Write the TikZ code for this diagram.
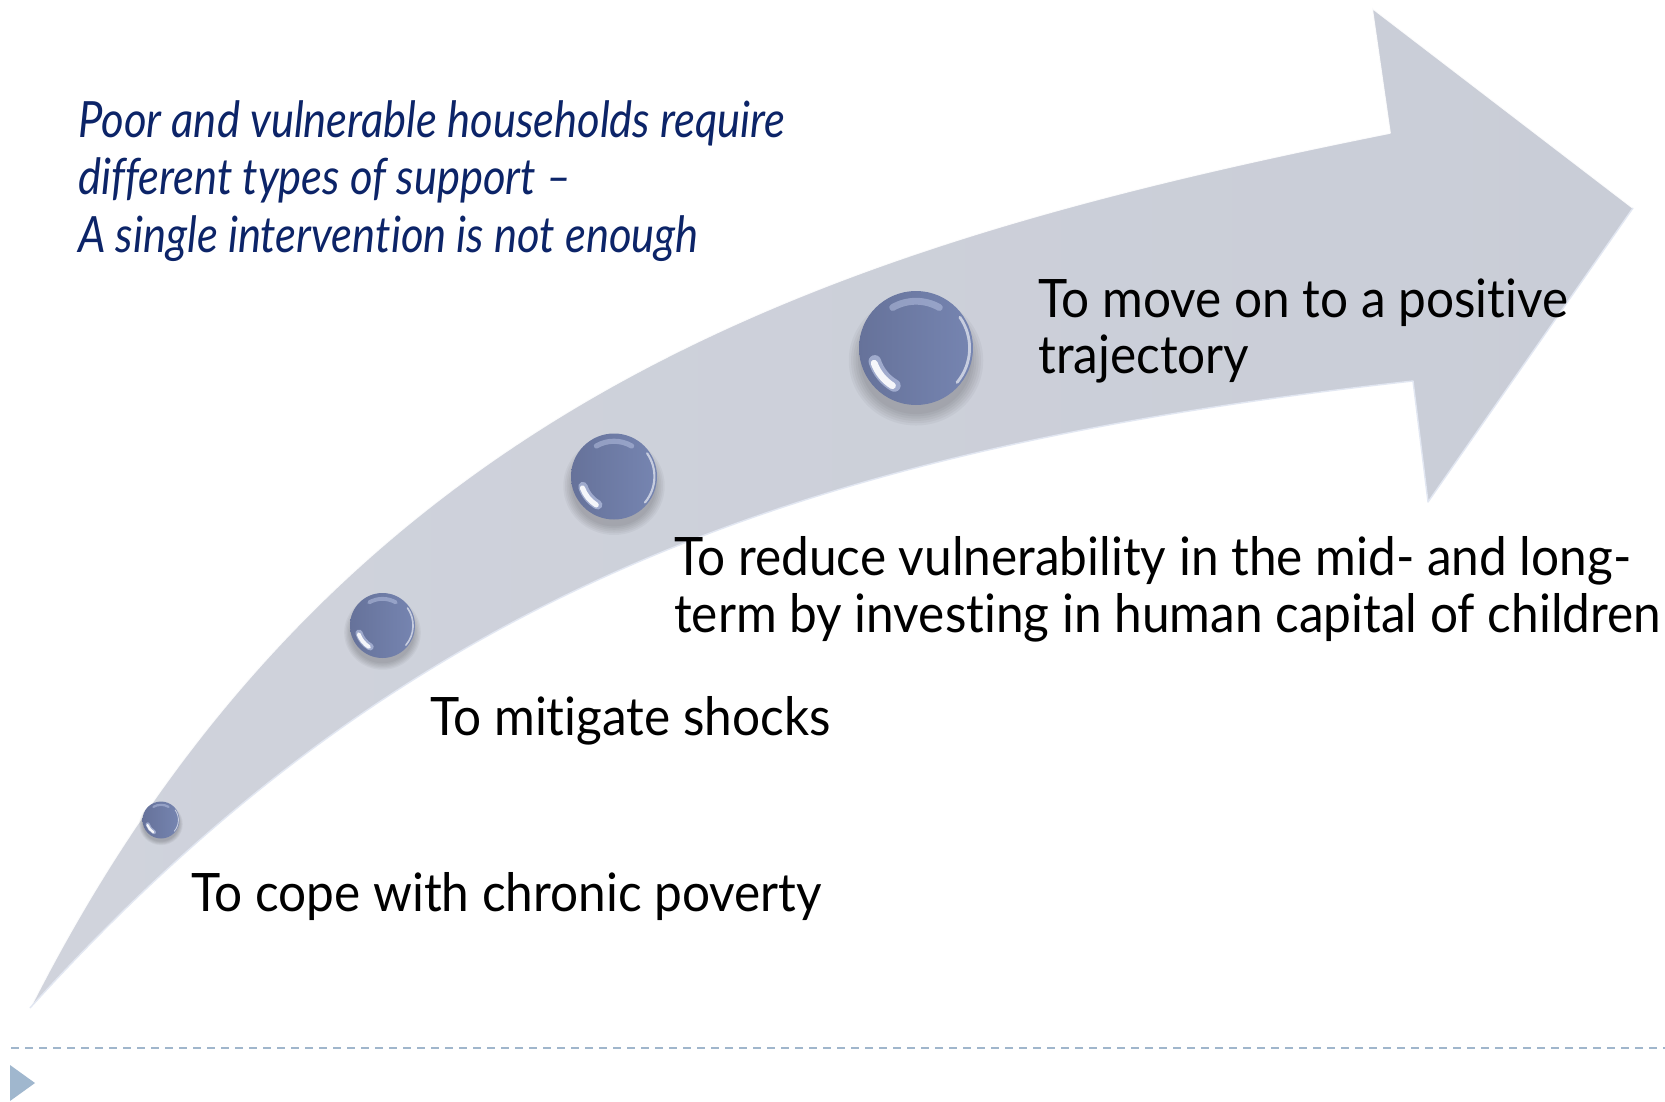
\documentclass[tikz,border=0pt]{standalone}
\usepackage{fontspec}
\setmainfont{Lato}[Ligatures=NoCommon]
\newfontfamily\stagefont{Lato}[Ligatures=NoCommon, FakeStretch=0.935]
\newfontfamily\leadfont{Lato}[Ligatures=NoCommon, FakeStretch=0.87]
\definecolor{leadblue}{RGB}{12,36,104}
\definecolor{arrowA}{RGB}{208,211,220}
\definecolor{arrowB}{RGB}{218,220,228}
\definecolor{arrowC}{RGB}{201,205,215}
\definecolor{ballA}{RGB}{102,114,154}
\definecolor{ballB}{RGB}{118,133,177}
\definecolor{glint}{RGB}{196,206,236}
\definecolor{rulecol}{RGB}{160,182,204}
\definecolor{bulletcol}{RGB}{160,183,206}
\definecolor{rimcol}{RGB}{226,231,242}

% a glossy bead: name, x, y, radius
\newcommand{\glassbead}[4]{%
  \foreach \k in {0,...,5}
    \fill[black, opacity=0.035]
      (#2,{#3+0.22*#4}) ellipse [x radius={#4*(0.98+0.04*\k)}, y radius={#4*(0.94+0.04*\k)}];
  \node[bead, minimum size={2*#4pt}] (#1) at (#2,#3) {};
  % soft glint along the top
  \draw[glint, opacity=0.45, line width={0.12*#4pt}, line cap=round]
    (#2,#3) ++(240:{0.82*#4}) arc[start angle=240, end angle=300, radius={0.82*#4}];
  % bright crescent, lower left
  \draw[glint, opacity=0.6, line width={0.22*#4pt}, line cap=round]
    (#2,#3) ++(120:{0.76*#4}) arc[start angle=120, end angle=162, radius={0.76*#4}];
  \draw[white, opacity=0.9, line width={0.12*#4pt}, line cap=round]
    (#2,#3) ++(122:{0.78*#4}) arc[start angle=122, end angle=160, radius={0.78*#4}];
  % light rim on the right
  \draw[white, opacity=0.6, line width={0.05*#4pt}, line cap=round]
    (#2,#3) ++(-35:{0.94*#4}) arc[start angle=-35, end angle=40, radius={0.94*#4}];
}

\begin{document}
\begin{tikzpicture}[x=1pt, y=-1pt,
  bead/.style={circle, inner sep=0pt, left color=ballA, right color=ballB},
  stage/.style={anchor=base west, inner sep=0pt, text=black,
    font=\stagefont\fontsize{53}{58}\selectfont},
  lead/.style={anchor=base west, inner sep=0pt, text=leadblue,
    font=\leadfont\fontsize{50}{57}\selectfont\itshape},
]
\useasboundingbox (0,0) rectangle (1665,1102);
\fill[white] (0,0) rectangle (1665,1102);

% the rising arrow
\coordinate (tail) at (30,1008);
\coordinate (notchU) at (1390,133);
\coordinate (barbU) at (1372,8);
\coordinate (tip) at (1633,208);
\coordinate (barbL) at (1428,502);
\coordinate (notchL) at (1413,381);
\shade[left color=arrowA, middle color=arrowB, right color=arrowC]
  (tail) .. controls (336,403) and (822,247) .. (notchU)
  -- (barbU) -- (tip) -- (barbL) -- (notchL)
  .. controls (787,450) and (398.5,601) .. (tail) -- cycle;
% bevelled rims
\draw[white, opacity=0.9, line width=1.6pt, line join=round]
  (tail) .. controls (336,403) and (822,247) .. (notchU) -- (barbU) -- (tip);
\draw[rimcol, line width=1.4pt, line join=round]
  (tip) -- (barbL) -- (notchL) .. controls (787,450) and (398.5,601) .. (tail);

% beads along the arrow
\glassbead{b1}{161}{820}{18.5}
\glassbead{b2}{382.5}{625.5}{32.5}
\glassbead{b3}{614}{476.5}{43}
\glassbead{b4}{916}{348}{57}

% lead text
\node[lead] (l1) at (78,138) {Poor and vulnerable households require};
\node[lead] (l2) at (78,195) {different types of support –};
\node[lead] (l3) at (78,252) {A single intervention is not enough};

% stage labels
\node[stage] (t1) at (191,911) {To cope with chronic poverty};
\node[stage] (t2) at (430,735) {To mitigate shocks};
\node[stage] (t3a) at (674,575) {To reduce vulnerability in the mid- and long-};
\node[stage] (t3b) at (674,632) {term by investing in human capital of children};
\node[stage] (t4a) at (1038,317) {To move on to a positive};
\node[stage] (t4b) at (1038,373) {trajectory};

% footer rule and bullet
\draw[rulecol, line width=2pt, dash pattern=on 8pt off 6pt] (11,1048) -- (1665,1048);
\fill[bulletcol] (10,1065) -- (35,1083) -- (10,1101) -- cycle;
\end{tikzpicture}
\end{document}
